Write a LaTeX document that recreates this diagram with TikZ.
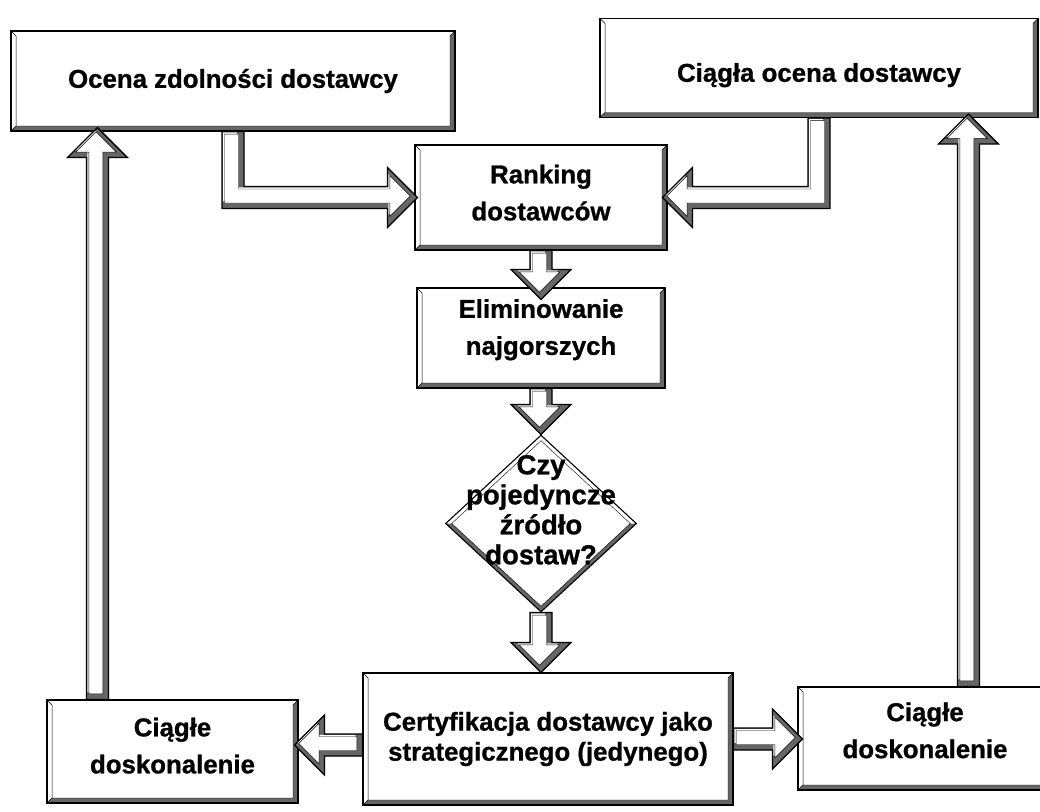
\documentclass[tikz,border=0pt]{standalone}
\usepackage{fontspec}
\setmainfont{Liberation Sans}[BoldFeatures={FakeBold=0.9}]
\usetikzlibrary{calc,shapes.geometric}

% bold label font; the arguments are the size and the line spacing
\newcommand\txtfont[2][25.8]{\fontsize{#1}{#2}\selectfont\bfseries}
% invisible depth below the last line of a label
\newcommand\lowstrut[1]{\rule[-#1]{0pt}{#1}}

\tikzset{
  x=1pt, y=-1pt,
  bandcol/.style={fill=black!60},
  bevelbox/.style={rectangle, draw=black, line width=1.1pt, fill=white, inner sep=0pt,
    align=center, font=\txtfont{37},
    path picture={
      \fill[bandcol] (path picture bounding box.south west) -- (path picture bounding box.south east)
        -- (path picture bounding box.north east) -- ++(-5pt,-5pt)
        |- ($(path picture bounding box.south west)+(5pt,5pt)$) -- cycle;
      \draw[line width=0.4pt] ($(path picture bounding box.south west)+(5pt,5pt)$)
        -| ($(path picture bounding box.north east)+(-5pt,-5pt)$) -- (path picture bounding box.north east);
      \draw[line width=0.5pt] (path picture bounding box.south west) -- ($(path picture bounding box.south west)+(5pt,5pt)$)
        -- ($(path picture bounding box.north west)+(5pt,-5pt)$) -- (path picture bounding box.north west);
    }},
  decision/.style={diamond, draw=black, line width=1.1pt, fill=white, inner sep=0pt,
    minimum width=191pt, minimum height=177pt, font=\txtfont[27.5]{30},
    path picture={
      \fill[bandcol] (path picture bounding box.west) -- (path picture bounding box.south)
        -- (path picture bounding box.east) -- ($(path picture bounding box.east)+(-6pt,0pt)$)
        -- ($(path picture bounding box.south)+(0pt,5.5pt)$) -- ($(path picture bounding box.west)+(6pt,0pt)$) -- cycle;
      \draw[line width=0.4pt] ($(path picture bounding box.west)+(6pt,0pt)$)
        -- ($(path picture bounding box.north)+(0pt,-5.5pt)$) -- ($(path picture bounding box.east)+(-6pt,0pt)$)
        -- ($(path picture bounding box.south)+(0pt,5.5pt)$) -- cycle;
    }},
  arrshade/.style={fill=black!60},
  arrline/.style={draw=black, line width=1.3pt, line join=miter},
  arrinner/.style={draw=black, line width=0.45pt, line join=miter},
}

% Paints a bevelled block arrow from the outline points o1..o#1
% and the inset points i1..i#1 (light from the upper left).
\newcommand\arrowlayers[1]{%
  \foreach \k in {1,...,#1} {\path ($(i\k)+(-1.5pt,1.5pt)$) coordinate (j\k) ($(i\k)+(-3.2pt,3.2pt)$) coordinate (w\k);}
  \fill[arrshade] (o1) \foreach \k in {2,...,#1} { -- (o\k) } -- cycle;
  \fill[white] (w1) \foreach \k in {2,...,#1} { -- (w\k) } -- cycle;
  \filldraw[fill=white, arrinner] (j1) \foreach \k in {2,...,#1} { -- (j\k) } -- cycle;
  \draw[arrline] (o1) \foreach \k in {2,...,#1} { -- (o\k) } -- cycle;
}

% Straight block arrow from #1 to the tip #2
\newcommand\blockarr[2]{%
  \path ($(#2)!30pt!(#1)$) coordinate (bh) ($(#2)!26pt!(#1)$) coordinate (bhi)
        ($(#2)!5.7pt!(#1)$) coordinate (bti) ($(#1)!4pt!(#2)$) coordinate (bsi);
  \path ($(#1)!11pt!90:(#2)$) coordinate (o1) ($(bh)!11pt!90:(#2)$) coordinate (o2)
        ($(bh)!30pt!90:(#2)$) coordinate (o3) (#2) coordinate (o4)
        ($(bh)!30pt!-90:(#2)$) coordinate (o5) ($(bh)!11pt!-90:(#2)$) coordinate (o6)
        ($(#1)!11pt!-90:(#2)$) coordinate (o7);
  \path ($(bsi)!7pt!90:(#2)$) coordinate (i1) ($(bhi)!7pt!90:(#2)$) coordinate (i2)
        ($(bhi)!20.3pt!90:(#2)$) coordinate (i3) (bti) coordinate (i4)
        ($(bhi)!20.3pt!-90:(#2)$) coordinate (i5) ($(bhi)!7pt!-90:(#2)$) coordinate (i6)
        ($(bsi)!7pt!-90:(#2)$) coordinate (i7);
  \arrowlayers{7}%
}

% Block arrow going down from #1, then sideways to the tip #2;
% #3 = 1 for a run to the right, -1 for a run to the left
\newcommand\elbowarr[3]{%
  \path (#1 |- #2) coordinate (ec);
  \path ($(#1)+({-11pt*(#3)},0pt)$) coordinate (o1)
        ($(ec)+({-11pt*(#3)},-11pt)$) coordinate (o2)
        ($(#2)+({-30pt*(#3)},-11pt)$) coordinate (o3)
        ($(#2)+({-30pt*(#3)},-30pt)$) coordinate (o4)
        (#2) coordinate (o5)
        ($(#2)+({-30pt*(#3)},30pt)$) coordinate (o6)
        ($(#2)+({-30pt*(#3)},11pt)$) coordinate (o7)
        ($(ec)+({11pt*(#3)},11pt)$) coordinate (o8)
        ($(#1)+({11pt*(#3)},0pt)$) coordinate (o9);
  \path ($(#1)+({-7pt*(#3)},-4pt)$) coordinate (i1)
        ($(ec)+({-7pt*(#3)},-7pt)$) coordinate (i2)
        ($(#2)+({-26pt*(#3)},-7pt)$) coordinate (i3)
        ($(#2)+({-26pt*(#3)},-20.3pt)$) coordinate (i4)
        ($(#2)+({-5.7pt*(#3)},0pt)$) coordinate (i5)
        ($(#2)+({-26pt*(#3)},20.3pt)$) coordinate (i6)
        ($(#2)+({-26pt*(#3)},7pt)$) coordinate (i7)
        ($(ec)+({7pt*(#3)},7pt)$) coordinate (i8)
        ($(#1)+({7pt*(#3)},-4pt)$) coordinate (i9);
  \arrowlayers{9}%
}

\begin{document}
\begin{tikzpicture}
  \useasboundingbox (0,0) rectangle (1040,811);
  \clip (0,0) rectangle (1040,811);
  \fill[white] (0,0) rectangle (1040,811);

  % boxes
  \node[bevelbox, minimum width=444pt, minimum height=100pt] (ocena) at (233,81) {Ocena zdolności dostawcy};
  \node[bevelbox, minimum width=438pt, minimum height=99pt] (ciagla) at (819,68) {\rule{0pt}{33pt}Ciągła ocena dostawcy};
  \node[bevelbox, minimum width=252pt, minimum height=105pt] (rank) at (541,197.5) {Ranking\\dostawców\lowstrut{10pt}};
  \node[bevelbox, minimum width=248pt, minimum height=100pt] (elim) at (541,338) {Eliminowanie\\najgorszych\lowstrut{22pt}};
  \node[decision] (dec) at (541,523.5) {\raisebox{4pt}[0pt][0pt]{\makebox[0pt]{\begin{tabular}{@{}c@{}}Czy\\pojedyncze\\źródło\\dostaw?\end{tabular}}}};
  \node[bevelbox, font=\txtfont{30}, minimum width=370pt, minimum height=132pt] (cert) at (548,739) {Certyfikacja dostawcy jako\\strategicznego (jedynego)};
  \node[bevelbox, minimum width=251pt, minimum height=103pt] (cl) at (172.5,751.5) {Ciągłe\\doskonalenie\lowstrut{12pt}};
  \node[bevelbox, minimum width=254pt, minimum height=103pt] (cr) at (925,738.5) {Ciągłe\\doskonalenie\lowstrut{16.5pt}};

  % arrow ends
  \coordinate (t1) at ($(elim.north)+(0pt,-12pt)$);
  \coordinate (t3) at (dec.south |- cert.north);
  \coordinate (la0) at ($(cl.north west)+(51pt,0pt)$);
  \coordinate (la1) at ($(la0 |- ocena.south)+(0pt,4pt)$);
  \coordinate (ra0) at ($(cr.north west)+(171pt,0pt)$);
  \coordinate (ra1) at ($(ra0 |- ciagla.south)+(0pt,4pt)$);
  \coordinate (ha0) at ($(cert.west)+(0pt,-6pt)$);
  \coordinate (ha1) at ($(ha0 -| cl.east)+(-4pt,0pt)$);
  \coordinate (hb0) at (cert.east);
  \coordinate (hb1) at ($(hb0 -| cr.west)+(5pt,0pt)$);
  \coordinate (e1) at ($(rank.west)+(3pt,0pt)$);
  \coordinate (e2) at ($(rank.east)+(-5pt,0pt)$);

  % block arrows
  \elbowarr{ocena.south}{e1}{1}
  \elbowarr{ciagla.south}{e2}{-1}
  \blockarr{rank.south}{t1}
  \blockarr{elim.south}{dec.north}
  \blockarr{dec.south}{t3}
  \blockarr{ha0}{ha1}
  \blockarr{hb0}{hb1}
  \blockarr{la0}{la1}
  \blockarr{ra0}{ra1}
\end{tikzpicture}
\end{document}
